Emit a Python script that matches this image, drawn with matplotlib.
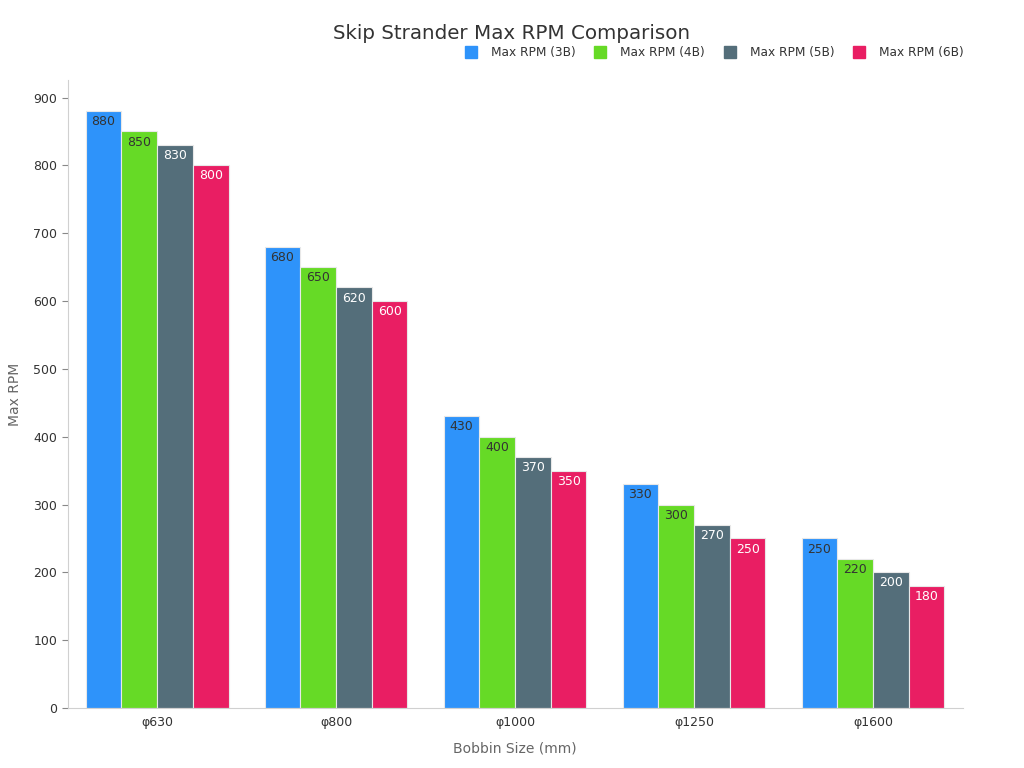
import numpy as np
import matplotlib.pyplot as plt

categories = ['φ630', 'φ800', 'φ1000', 'φ1250', 'φ1600']
series_names = ['Max RPM (3B)', 'Max RPM (4B)', 'Max RPM (5B)', 'Max RPM (6B)']
rpm_3b = [880, 680, 430, 330, 250]
rpm_4b = [850, 650, 400, 300, 220]
rpm_5b = [830, 620, 370, 270, 200]
rpm_6b = [800, 600, 350, 250, 180]

colors = ['#2E93FA', '#66DA26', '#546E7A', '#E91E63']
label_colors = ['#333333', '#333333', '#ffffff', '#ffffff']

fig = plt.figure(figsize=(10.24, 7.68), dpi=100)
ax = fig.add_axes([0.066, 0.078, 0.874, 0.818])

x = np.arange(len(categories))
width = 0.2
for i, vals in enumerate([rpm_3b, rpm_4b, rpm_5b, rpm_6b]):
    pos = x + (i - 1.5) * width
    bars = ax.bar(pos, vals, width * 0.99, color=colors[i], edgecolor='#e8e8e8',
                  linewidth=0.8, label=series_names[i], zorder=2)
    for b, v in zip(bars, vals):
        ax.text(b.get_x() + b.get_width() / 2, v - 6, str(v), ha='center', va='top',
                fontsize=9, color=label_colors[i], zorder=3)

ax.set_xlim(-0.5, len(categories) - 0.5)
ax.set_ylim(0, 926)
ax.set_xticks(x)
ax.set_xticklabels(categories)
ax.set_yticks(range(0, 901, 100))
ax.tick_params(labelsize=9, colors='#333333', length=4)
ax.tick_params(axis='x', length=0, pad=6)
ax.tick_params(axis='y', color='#888888')

for s in ['top', 'right']:
    ax.spines[s].set_visible(False)
for s in ['left', 'bottom']:
    ax.spines[s].set_color('#d0d0d0')

ax.set_ylabel('Max RPM', fontsize=10, color='#666666', labelpad=8)
ax.set_xlabel('Bobbin Size (mm)', fontsize=10, color='#666666', labelpad=9)

fig.text(0.5, 0.957, 'Skip Strander Max RPM Comparison', ha='center', va='center',
         fontsize=14.3, color='#333333')

handles = [plt.Line2D([], [], marker='s', linestyle='', markersize=8, color=c) for c in colors]
leg = fig.legend(handles, series_names, loc='center', bbox_to_anchor=(0.696, 0.931), ncol=4,
                 frameon=False, fontsize=8.7, handletextpad=0.9, columnspacing=1.3,
                 handlelength=1.5)
for t in leg.get_texts():
    t.set_color('#333333')

plt.savefig('out.png', dpi=100)
